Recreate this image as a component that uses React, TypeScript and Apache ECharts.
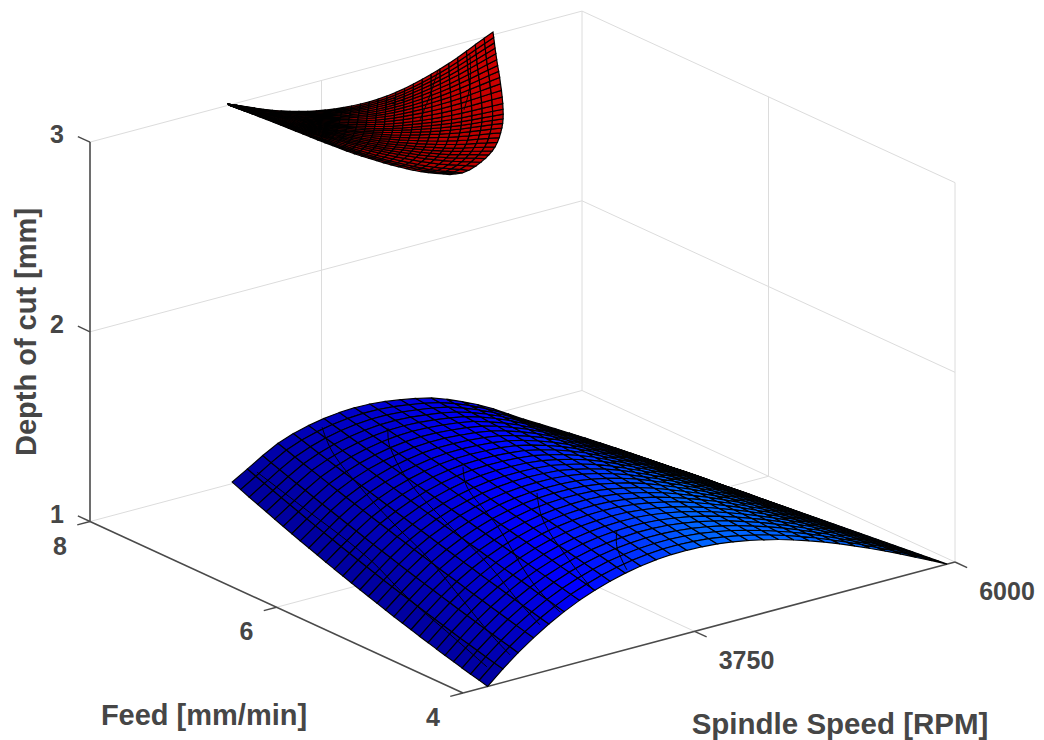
import React, { useEffect, useRef } from "react";
import * as echarts from "echarts";

const SPEED_MIN = 1750, SPEED_MAX = 6000, FEED_MIN = 4, FEED_MAX = 8, DEPTH_MIN = 1;
const speedTicks = [3750, 6000];
const feedTicks = [4, 6, 8];
const depthTicks = [1, 2, 3];

const speedsBlue = [1963,2095,2227,2359,2492,2624,2756,2889,3021,3153,3286,3418,3550,3683,3815,3947,4080,4212,4344,4477,4609,4741,4873,5006,5138,5270,5403,5535,5667,5800,5932];
const feedsBlue = [4,4.091,4.183,4.274,4.365,4.457,4.548,4.639,4.731,4.822,4.913,5.005,5.096,5.187,5.279,5.37,5.461,5.553,5.644,5.735,5.827,5.918,6.009,6.101,6.192,6.283,6.375,6.466,6.557,6.649,6.74];
// depth of cut in thousandths of a mm, one row per feed, one column per speed
const depthBlue = [
[1000,1071,1135,1192,1243,1287,1325,1357,1383,1404,1420,1431,1437,1438,1435,1429,1418,1404,1386,1366,1342,1316,1288,1257,1224,1190,1154,1117,1078,1040,1000],
[1012,1082,1147,1204,1254,1298,1336,1368,1394,1414,1430,1440,1446,1447,1443,1436,1424,1409,1391,1369,1345,1318,1289,1257,1224,1189,1152,1114,1075,1035,995],
[1023,1094,1158,1216,1266,1310,1347,1379,1404,1425,1439,1449,1454,1455,1451,1443,1430,1415,1395,1372,1347,1320,1290,1257,1223,1187,1150,1112,1072,1031,990],
[1035,1106,1170,1228,1278,1321,1358,1390,1415,1435,1449,1458,1463,1463,1458,1449,1436,1419,1399,1375,1349,1321,1290,1257,1223,1186,1148,1109,1068,1027,986],
[1048,1118,1182,1240,1290,1333,1370,1400,1425,1445,1458,1467,1472,1471,1466,1456,1442,1424,1403,1378,1352,1322,1291,1257,1222,1185,1146,1106,1065,1023,981],
[1060,1130,1195,1252,1302,1345,1381,1411,1436,1455,1468,1476,1480,1479,1473,1462,1448,1429,1406,1381,1353,1323,1291,1257,1221,1183,1144,1103,1062,1019,976],
[1073,1143,1207,1265,1314,1356,1392,1422,1446,1464,1477,1485,1488,1487,1480,1468,1453,1433,1410,1383,1355,1324,1292,1257,1220,1181,1141,1100,1058,1015,971],
[1086,1156,1220,1277,1326,1368,1404,1433,1457,1474,1486,1493,1496,1494,1486,1474,1458,1437,1413,1385,1356,1325,1292,1256,1219,1180,1139,1097,1054,1011,966],
[1099,1169,1233,1290,1338,1380,1415,1444,1467,1484,1495,1502,1504,1502,1493,1480,1463,1442,1416,1388,1358,1326,1291,1255,1217,1178,1136,1094,1051,1006,962],
[1113,1182,1246,1303,1351,1392,1426,1454,1477,1494,1504,1510,1512,1509,1499,1486,1468,1445,1419,1389,1359,1326,1291,1254,1216,1175,1134,1091,1047,1002,957],
[1127,1195,1259,1315,1363,1404,1437,1465,1487,1503,1513,1518,1520,1516,1506,1491,1472,1449,1421,1391,1360,1326,1291,1253,1214,1173,1131,1088,1043,998,952],
[1141,1209,1272,1328,1376,1415,1449,1476,1497,1513,1522,1527,1527,1523,1512,1496,1477,1452,1423,1392,1360,1326,1290,1252,1212,1171,1128,1084,1039,994,947],
[1155,1222,1285,1342,1388,1427,1460,1487,1507,1522,1531,1535,1534,1529,1518,1501,1481,1456,1426,1394,1361,1326,1289,1251,1210,1168,1125,1081,1035,989,942],
[1170,1236,1299,1355,1401,1439,1471,1497,1517,1531,1539,1542,1541,1536,1523,1506,1485,1459,1428,1395,1361,1326,1288,1249,1208,1166,1122,1077,1031,985,938],
[1185,1250,1313,1368,1414,1451,1483,1508,1527,1540,1548,1550,1549,1542,1529,1511,1488,1461,1429,1396,1361,1325,1287,1247,1206,1163,1119,1073,1027,980,933],
[1200,1265,1327,1382,1426,1464,1494,1518,1537,1549,1556,1558,1555,1549,1534,1515,1492,1464,1431,1396,1361,1324,1286,1245,1204,1160,1115,1070,1023,976,928],
[1215,1279,1341,1395,1439,1476,1505,1529,1547,1558,1564,1565,1562,1555,1539,1520,1495,1466,1432,1397,1361,1323,1284,1243,1201,1157,1111,1066,1019,971,923],
[1231,1294,1355,1409,1452,1488,1517,1540,1557,1567,1572,1572,1569,1560,1544,1524,1499,1469,1434,1397,1360,1322,1282,1241,1198,1154,1108,1062,1015,967,918],
[1247,1309,1369,1423,1465,1500,1528,1550,1566,1576,1580,1579,1575,1566,1549,1528,1502,1471,1434,1397,1359,1321,1280,1239,1195,1151,1105,1058,1010,962,914],
[1263,1324,1384,1437,1478,1512,1539,1561,1576,1585,1588,1587,1581,1572,1554,1532,1504,1473,1435,1397,1359,1319,1278,1236,1192,1147,1101,1054,1006,958,909],
[1280,1340,1399,1451,1492,1525,1551,1571,1586,1594,1596,1593,1588,1577,1558,1535,1507,1474,1436,1396,1357,1317,1276,1233,1189,1144,1097,1050,1002,953,904],
[1296,1356,1414,1465,1505,1537,1562,1581,1595,1602,1604,1600,1594,1582,1563,1538,1509,1476,1436,1396,1356,1316,1274,1230,1186,1140,1093,1045,997,948,899],
[1313,1371,1429,1479,1518,1549,1574,1592,1605,1611,1611,1607,1600,1588,1567,1542,1512,1477,1436,1395,1355,1314,1271,1227,1182,1136,1089,1041,993,944,894],
[1330,1387,1444,1494,1532,1562,1585,1602,1614,1619,1619,1613,1605,1592,1571,1545,1514,1478,1436,1394,1353,1311,1268,1224,1179,1132,1085,1037,988,939,890],
[1348,1404,1459,1508,1545,1574,1596,1613,1623,1628,1626,1620,1611,1597,1575,1547,1516,1479,1436,1393,1351,1309,1265,1221,1175,1128,1080,1032,983,934,885],
[1366,1420,1475,1523,1559,1587,1608,1623,1633,1636,1633,1626,1616,1602,1578,1550,1517,1479,1436,1392,1349,1306,1262,1217,1171,1124,1076,1027,979,929,880],
[1384,1437,1490,1538,1573,1599,1619,1633,1642,1644,1640,1632,1621,1606,1582,1553,1519,1480,1435,1390,1347,1303,1259,1213,1167,1119,1071,1023,974,925,875],
[1402,1454,1506,1552,1586,1612,1630,1643,1651,1652,1647,1638,1627,1610,1585,1555,1520,1480,1434,1389,1344,1300,1255,1210,1163,1115,1067,1018,969,920,870],
[1420,1471,1522,1567,1600,1624,1642,1654,1660,1660,1654,1644,1632,1615,1588,1557,1521,1480,1433,1387,1342,1297,1252,1205,1158,1110,1062,1013,964,915,866],
[1439,1488,1538,1583,1614,1637,1653,1664,1669,1668,1661,1650,1636,1618,1591,1559,1522,1480,1432,1384,1339,1294,1248,1201,1154,1106,1057,1008,959,910,861],
[1458,1506,1555,1598,1628,1649,1665,1674,1678,1676,1668,1656,1641,1622,1594,1560,1523,1480,1431,1382,1336,1290,1244,1197,1149,1101,1052,1003,954,905,856],
];

const feedsRed = [8,7.96,7.92,7.88,7.84,7.8,7.76,7.72,7.68,7.64,7.6,7.56,7.52,7.48,7.44,7.4,7.36,7.32,7.28,7.24,7.2,7.16,7.12,7.08,7.04,7,6.96,6.92,6.88,6.84,6.8];
const speedsRed = [
[2942,3018,3095,3171,3247,3324,3400,3476,3553,3629,3705,3781,3858,3934,4010,4087,4163,4239,4316,4392,4468,4544,4621,4697,4773,4850,4926,5002,5079,5155,5231],
[2910,2986,3062,3138,3214,3290,3366,3442,3518,3594,3670,3747,3823,3899,3975,4052,4128,4205,4281,4358,4435,4511,4588,4665,4742,4819,4896,4973,5050,5128,5205],
[2879,2954,3030,3105,3181,3256,3332,3408,3484,3560,3636,3712,3788,3864,3940,4017,4093,4170,4247,4324,4401,4478,4555,4633,4710,4788,4866,4944,5022,5100,5179],
[2847,2922,2997,3072,3148,3223,3298,3374,3449,3525,3601,3677,3753,3829,3905,3982,4059,4136,4213,4290,4368,4445,4523,4601,4679,4757,4836,4915,4994,5073,5152],
[2815,2890,2965,3039,3114,3189,3264,3339,3415,3490,3566,3642,3718,3794,3871,3947,4024,4101,4179,4256,4334,4412,4490,4569,4648,4727,4806,4886,4966,5046,5127],
[2784,2858,2932,3007,3081,3156,3230,3305,3380,3456,3531,3607,3683,3759,3836,3913,3990,4067,4145,4223,4301,4379,4458,4538,4617,4697,4777,4858,4939,5020,5102],
[2752,2826,2900,2974,3048,3122,3197,3271,3346,3421,3497,3572,3648,3725,3801,3878,3955,4033,4111,4189,4268,4347,4427,4507,4587,4668,4749,4831,4913,4995,5078],
[2721,2794,2867,2941,3015,3089,3163,3237,3312,3387,3462,3538,3614,3690,3767,3844,3921,3999,4078,4156,4236,4315,4395,4476,4557,4639,4721,4804,4887,4971,5055],
[2689,2762,2835,2908,2981,3055,3129,3203,3277,3352,3427,3503,3579,3655,3732,3809,3887,3965,4044,4123,4203,4283,4364,4445,4527,4609,4692,4776,4860,4945,5031],
[2657,2730,2802,2875,2948,3021,3095,3169,3243,3318,3393,3468,3544,3620,3697,3775,3853,3931,4010,4089,4170,4250,4332,4414,4496,4579,4663,4748,4833,4919,5006],
[2626,2698,2770,2842,2915,2988,3061,3135,3209,3283,3358,3433,3509,3586,3663,3740,3818,3897,3976,4056,4137,4218,4300,4382,4466,4550,4635,4720,4806,4894,4982],
[2594,2666,2737,2809,2882,2954,3027,3101,3174,3249,3323,3399,3474,3551,3628,3705,3784,3863,3942,4022,4103,4185,4267,4351,4435,4519,4605,4692,4779,4867,4956],
[2562,2634,2705,2776,2848,2921,2993,3066,3140,3214,3289,3364,3439,3516,3593,3670,3749,3828,3908,3988,4069,4151,4234,4318,4403,4488,4575,4662,4750,4839,4929],
[2531,2601,2672,2744,2815,2887,2959,3032,3105,3179,3254,3328,3404,3480,3557,3635,3713,3792,3872,3953,4034,4117,4200,4284,4369,4455,4542,4630,4719,4809,4899],
[2499,2569,2640,2711,2782,2853,2925,2998,3071,3144,3218,3293,3369,3445,3522,3599,3677,3757,3837,3917,3999,4082,4165,4249,4335,4421,4508,4597,4686,4777,4868],
[2467,2537,2607,2678,2748,2820,2891,2963,3036,3109,3183,3258,3333,3409,3486,3563,3641,3720,3800,3881,3963,4045,4129,4214,4299,4386,4474,4562,4652,4743,4835],
[2436,2505,2575,2645,2715,2786,2857,2929,3001,3074,3148,3222,3297,3373,3449,3526,3604,3683,3763,3844,3926,4008,4092,4177,4262,4349,4437,4525,4615,4707,4799],
[2404,2473,2542,2612,2682,2752,2823,2894,2966,3039,3112,3186,3261,3336,3412,3489,3567,3646,3725,3806,3887,3970,4053,4138,4223,4310,4397,4486,4576,4667,4760],
[2372,2441,2510,2579,2648,2718,2789,2860,2931,3003,3076,3150,3224,3299,3375,3452,3529,3607,3687,3767,3848,3930,4013,4097,4183,4269,4356,4445,4535,4625,4717],
[2341,2409,2477,2546,2615,2685,2755,2825,2896,2968,3040,3113,3187,3262,3337,3413,3490,3568,3647,3727,3808,3889,3972,4056,4141,4226,4313,4401,4491,4581,4673],
[2309,2377,2445,2513,2582,2651,2720,2790,2861,2932,3004,3077,3150,3224,3299,3375,3451,3528,3607,3686,3766,3847,3929,4012,4096,4182,4268,4355,4444,4534,4624],
[2278,2345,2412,2480,2548,2617,2686,2755,2826,2896,2968,3040,3113,3186,3260,3335,3411,3488,3565,3643,3723,3803,3884,3967,4050,4134,4220,4306,4393,4482,4572],
[2246,2313,2380,2447,2515,2583,2651,2720,2790,2860,2931,3002,3074,3147,3221,3295,3370,3446,3522,3600,3678,3757,3838,3919,4001,4084,4168,4253,4339,4427,4515],
[2214,2281,2347,2414,2481,2549,2617,2685,2754,2824,2894,2965,3036,3108,3180,3254,3328,3403,3478,3555,3632,3710,3789,3869,3950,4031,4114,4198,4282,4368,4454],
[2183,2249,2315,2381,2448,2515,2582,2650,2719,2787,2857,2927,2997,3068,3140,3212,3285,3359,3433,3509,3584,3661,3739,3817,3896,3976,4057,4139,4222,4305,4390],
[2151,2217,2282,2348,2414,2481,2548,2615,2683,2751,2819,2888,2958,3028,3099,3170,3242,3314,3387,3461,3535,3611,3687,3763,3840,3919,3997,4077,4158,4239,4321],
[2119,2184,2250,2315,2381,2447,2513,2579,2646,2713,2781,2849,2918,2987,3056,3126,3196,3267,3339,3411,3483,3556,3630,3704,3779,3855,3931,4008,4086,4164,4243],
[2088,2152,2217,2282,2347,2412,2478,2543,2609,2676,2742,2809,2876,2944,3011,3080,3148,3217,3287,3356,3426,3497,3568,3640,3711,3784,3857,3930,4004,4079,4153],
[2056,2120,2185,2249,2313,2378,2443,2508,2573,2638,2703,2769,2835,2901,2967,3034,3101,3168,3235,3303,3370,3439,3507,3576,3645,3714,3784,3854,3924,3995,4066],
[2024,2088,2152,2216,2280,2344,2408,2472,2536,2600,2665,2729,2794,2859,2923,2988,3053,3119,3184,3249,3315,3381,3447,3513,3579,3645,3712,3778,3845,3912,3979],
[1993,2056,2119,2183,2246,2309,2373,2436,2500,2563,2626,2690,2753,2816,2880,2943,3006,3070,3133,3196,3260,3323,3386,3450,3513,3576,3640,3703,3766,3830,3893],
];
const depthRed = [
[3007,2988,2968,2949,2929,2912,2896,2882,2869,2857,2847,2839,2832,2827,2823,2821,2820,2822,2826,2833,2841,2852,2865,2879,2894,2911,2930,2951,2973,2994,3015],
[3021,3002,2982,2962,2943,2924,2908,2894,2880,2868,2858,2848,2841,2835,2830,2827,2826,2826,2829,2834,2842,2851,2862,2875,2889,2904,2922,2941,2961,2980,2999],
[3035,3015,2995,2975,2956,2937,2921,2906,2892,2879,2868,2858,2850,2843,2837,2833,2831,2831,2832,2836,2842,2851,2860,2871,2883,2897,2913,2931,2949,2967,2984],
[3049,3029,3009,2989,2969,2950,2933,2918,2904,2890,2878,2868,2859,2851,2845,2840,2836,2835,2835,2838,2843,2850,2858,2867,2878,2890,2904,2920,2937,2953,2969],
[3063,3043,3022,3002,2982,2963,2946,2930,2915,2901,2889,2877,2868,2859,2852,2846,2841,2839,2838,2840,2843,2848,2855,2863,2872,2883,2895,2909,2924,2939,2953],
[3077,3057,3036,3015,2995,2976,2958,2942,2926,2912,2899,2887,2876,2867,2859,2852,2846,2842,2840,2841,2843,2847,2852,2858,2866,2874,2885,2897,2910,2923,2935],
[3091,3070,3050,3029,3008,2989,2971,2954,2938,2923,2909,2896,2885,2875,2865,2858,2851,2846,2843,2842,2842,2845,2848,2853,2859,2866,2875,2885,2896,2907,2917],
[3105,3084,3063,3042,3021,3001,2983,2966,2949,2934,2919,2906,2893,2882,2872,2863,2855,2849,2845,2842,2842,2842,2844,2847,2851,2857,2864,2872,2881,2891,2899],
[3118,3098,3077,3055,3034,3014,2995,2978,2961,2945,2929,2915,2902,2890,2879,2869,2860,2853,2847,2843,2841,2840,2840,2842,2844,2847,2852,2859,2866,2873,2880],
[3132,3112,3090,3069,3047,3027,3008,2990,2972,2955,2939,2924,2910,2897,2885,2874,2864,2856,2849,2843,2840,2837,2836,2835,2836,2837,2840,2845,2850,2855,2860],
[3146,3125,3104,3082,3061,3040,3020,3001,2983,2966,2949,2934,2919,2905,2892,2879,2868,2858,2850,2843,2838,2834,2830,2828,2826,2826,2827,2830,2833,2836,2838],
[3160,3139,3117,3095,3074,3053,3032,3013,2995,2977,2959,2943,2927,2912,2898,2884,2872,2861,2851,2843,2836,2830,2825,2821,2817,2815,2814,2814,2815,2816,2816],
[3174,3153,3131,3109,3087,3065,3045,3025,3006,2987,2969,2952,2935,2919,2904,2890,2876,2864,2853,2843,2834,2827,2820,2814,2809,2805,2802,2800,2799,2797,2795],
[3188,3166,3144,3122,3100,3078,3057,3037,3017,2998,2980,2962,2944,2927,2911,2896,2881,2868,2855,2844,2835,2826,2818,2810,2803,2797,2792,2789,2786,2783,2779],
[3202,3180,3158,3135,3113,3091,3070,3049,3029,3009,2990,2971,2953,2936,2919,2903,2887,2873,2859,2847,2836,2826,2817,2808,2800,2792,2786,2781,2777,2772,2767],
[3216,3194,3171,3149,3126,3104,3082,3061,3041,3021,3001,2982,2963,2945,2927,2910,2894,2878,2864,2851,2839,2828,2817,2807,2797,2789,2781,2775,2770,2764,2757],
[3230,3208,3185,3162,3139,3117,3095,3074,3053,3032,3012,2992,2972,2954,2935,2917,2900,2884,2869,2855,2842,2829,2818,2806,2796,2786,2777,2770,2763,2756,2748],
[3244,3221,3198,3175,3152,3130,3108,3086,3064,3043,3022,3002,2982,2962,2943,2925,2907,2890,2873,2858,2844,2831,2818,2806,2794,2783,2773,2764,2756,2748,2739],
[3258,3235,3212,3189,3166,3143,3120,3098,3076,3054,3033,3012,2991,2971,2951,2932,2913,2895,2878,2862,2847,2832,2818,2805,2792,2779,2768,2758,2749,2740,2729],
[3272,3249,3225,3202,3179,3156,3133,3110,3088,3066,3044,3023,3001,2980,2959,2939,2920,2901,2882,2866,2849,2834,2819,2804,2789,2776,2763,2752,2742,2731,2720],
[3286,3262,3239,3215,3192,3168,3145,3122,3100,3077,3055,3032,3010,2989,2968,2947,2926,2906,2887,2870,2852,2836,2819,2804,2788,2773,2759,2747,2736,2724,2712],
[3299,3276,3253,3229,3205,3181,3158,3135,3112,3088,3066,3043,3020,2998,2976,2955,2934,2913,2893,2874,2856,2839,2821,2804,2788,2772,2757,2744,2732,2719,2706],
[3313,3290,3266,3242,3218,3194,3171,3147,3123,3100,3077,3053,3030,3008,2985,2963,2941,2920,2899,2880,2861,2843,2825,2807,2789,2773,2757,2743,2730,2717,2702],
[3327,3304,3280,3256,3232,3207,3183,3159,3136,3112,3088,3064,3041,3017,2995,2972,2950,2928,2906,2886,2867,2848,2829,2810,2792,2775,2758,2744,2730,2716,2701],
[3341,3317,3293,3269,3245,3220,3196,3172,3148,3123,3099,3075,3051,3027,3004,2981,2958,2935,2914,2893,2873,2853,2834,2814,2796,2778,2760,2745,2731,2717,2701],
[3355,3331,3307,3282,3258,3233,3209,3184,3160,3135,3111,3086,3062,3038,3014,2990,2967,2944,2921,2900,2879,2859,2839,2819,2799,2781,2763,2747,2732,2718,2702],
[3369,3345,3320,3296,3271,3246,3222,3197,3172,3147,3122,3098,3073,3048,3023,2999,2975,2952,2929,2907,2886,2864,2844,2823,2803,2784,2765,2749,2734,2719,2703],
[3383,3358,3334,3309,3284,3259,3234,3209,3184,3159,3134,3108,3083,3058,3033,3009,2984,2960,2937,2914,2893,2871,2850,2829,2808,2788,2769,2753,2737,2722,2705],
[3397,3372,3347,3323,3298,3273,3247,3222,3197,3171,3146,3120,3094,3069,3044,3019,2995,2970,2947,2924,2902,2880,2859,2838,2817,2797,2778,2762,2746,2731,2715],
[3411,3386,3361,3336,3311,3286,3260,3235,3209,3184,3158,3132,3107,3081,3056,3031,3007,2983,2959,2937,2915,2893,2872,2851,2831,2811,2793,2777,2762,2748,2733],
[3425,3400,3375,3350,3324,3299,3274,3248,3222,3196,3171,3145,3119,3094,3069,3044,3019,2995,2972,2950,2928,2906,2885,2865,2845,2826,2808,2793,2779,2766,2752],
];

// thin dark curves lying on the surfaces: [speed, feed, depth]
const contourLines = [
[[1098,5.4,1.954],[1470,5.4,1.72],[2048,5.4,1.352],[2394,5.4,1.085],[2791,5.4,.81],[3085,5.4,.604]],
[[1660,5.4,2.1],[1755,5.4,1.948],[1988,5.4,1.731],[2273,5.4,1.495],[2567,5.4,1.268],[2852,5.4,1.011],[3085,5.4,.799],[3284,5.4,.635]],
[[2230,5.4,2.003],[2247,5.4,1.9],[2420,5.4,1.682],[2739,5.4,1.419],[3085,5.4,1.152],[3370,5.4,.895],[3543,5.4,.751]],
[[2878,5.4,1.692],[2912,5.4,1.581],[3085,5.4,1.416],[3197,5.4,1.308],[3482,5.4,.982],[3716,5.4,.791]],
[[3517,5.4,1.451],[3569,5.4,1.3],[3776,5.4,1.071],[4001,5.4,.861]],
[[4208,5.4,1.143],[4208,5.4,1.054],[4294,5.4,.919]],
[[2938,5.4,3.854],[2938,5.4,3.696],[2886,5.4,3.572]],
[[2662,5.4,3.82],[2593,5.4,3.699],[2506,5.4,3.581]],
];

function project(speed: number, feed: number, depth: number) {
  const s = (speed - SPEED_MIN) / (SPEED_MAX - SPEED_MIN);
  const f = (feed - FEED_MIN) / (FEED_MAX - FEED_MIN);
  return [463 + 492 * s - 373 * f, 693 - 131 * s - 171.5 * f - 189.7 * (depth - DEPTH_MIN)];
}

const GRID = "#dcdcdc", AXIS = "#4a4a4a";
type Seg = [number, number, number, number, number, number, string, number];
const segs: Seg[] = [];
const add = (a: number[], b: number[], c: string, w: number) => segs.push([a[0], a[1], a[2], b[0], b[1], b[2], c, w]);
for (const d of depthTicks) {
  add([SPEED_MIN, FEED_MAX, d], [SPEED_MAX, FEED_MAX, d], GRID, 1);
  add([SPEED_MAX, FEED_MAX, d], [SPEED_MAX, FEED_MIN, d], GRID, 1);
}
add([SPEED_MAX, FEED_MAX, 1], [SPEED_MAX, FEED_MAX, 3], GRID, 1);
add([SPEED_MAX, FEED_MIN, 1], [SPEED_MAX, FEED_MIN, 3], GRID, 1);
for (const sp of speedTicks.slice(0, 1)) {
  add([sp, FEED_MIN, 1], [sp, FEED_MAX, 1], GRID, 1);
  add([sp, FEED_MAX, 1], [sp, FEED_MAX, 3], GRID, 1);
}
add([SPEED_MIN, 6, 1], [SPEED_MAX, 6, 1], GRID, 1);
add([SPEED_MAX, 6, 1], [SPEED_MAX, 6, 3], GRID, 1);
add([SPEED_MIN, FEED_MAX, 1], [SPEED_MIN, FEED_MAX, 3], AXIS, 1.6);
add([SPEED_MIN, FEED_MIN, 1], [SPEED_MIN, FEED_MAX, 1], AXIS, 1.6);
add([SPEED_MIN, FEED_MIN, 1], [SPEED_MAX, FEED_MIN, 1], AXIS, 1.6);
const dF = -.13, dS = -110;
for (const sp of speedTicks) add([sp, FEED_MIN, 1], [sp, FEED_MIN + dF, 1], AXIS, 1.4);
for (const fd of feedTicks) add([SPEED_MIN, fd, 1], [SPEED_MIN + dS, fd, 1], AXIS, 1.4);
for (const d of depthTicks) add([SPEED_MIN, FEED_MAX, d], [SPEED_MIN, FEED_MAX + .13, d], AXIS, 1.4);

function surfaceData(ni: number, nj: number) {
  const out: number[][] = [];
  for (let i = ni - 1; i >= 0; i--) for (let j = 0; j < nj; j++) out.push([i, j]);
  return out;
}
const clamp = (x: number) => Math.max(0, Math.min(1, x));
function surface(name: string, speedAt: (i: number, j: number) => number, feeds: number[], depth: number[][], shade: (u: number, v: number) => string, lineWidth: number) {
  const ni = depth.length - 1, nj = depth[0].length - 1;
  return {
    type: "custom", name, silent: true, coordinateSystem: "cartesian2d",
    data: surfaceData(ni, nj), clip: false,
    renderItem: (_: any, api: any) => {
      const i = api.value(0), j = api.value(1);
      const pts = [[i, j], [i, j + 1], [i + 1, j + 1], [i + 1, j]].map(([a, b]) => api.coord(project(speedAt(a, b), feeds[a], depth[a][b] / 1000)));
      return { type: "polygon", shape: { points: pts }, style: { fill: shade((j + .5) / nj, (i + .5) / ni), stroke: "#000", lineWidth } };
    },
  };
}
const blueShade = (u: number, v: number) => {
  const t = clamp(.1 + 1.9 * u - 1.2 * u * v);
  return t < .5 ? `rgb(0,0,${Math.round(130 + 250 * t)})` : `rgb(0,${Math.round((t - .5) * 200)},255)`;
};
const redShade = (u: number, v: number) => `rgb(${Math.round(125 + 85 * clamp(.7 * u + .3 * (1 - v)))},0,0)`;

const FONT = '"Liberation Sans", Arial, sans-serif';
const label = (text: string, x: number, y: number, size: number, rotation = 0) => ({
  type: "text", x, y, rotation, silent: true,
  style: { text, fill: "#464646", font: `bold ${size}px ${FONT}`, textAlign: "center", textVerticalAlign: "middle" },
});

export default function App() {
  const ref = useRef<HTMLDivElement>(null);
  useEffect(() => {
    const chart = echarts.init(ref.current!, undefined, { renderer: "svg" });
    const tickLabels: any[] = [];
    for (const d of depthTicks) { const p = project(SPEED_MIN, FEED_MAX, d); tickLabels.push(label(String(d), p[0] - 33, p[1] - 8, 25)); }
    for (const fd of feedTicks) { const p = project(SPEED_MIN, fd, 1); tickLabels.push(label(String(fd), p[0] - 30, p[1] + 24, 25)); }
    for (const sp of speedTicks) { const p = project(sp, FEED_MIN, 1); tickLabels.push(label(String(sp), p[0] + 52, p[1] + 29, 25)); }
    chart.setOption({
      animation: false,
      backgroundColor: "#fff",
      grid: { left: 0, right: 0, top: 0, bottom: 0 },
      xAxis: { type: "value", min: 0, max: 1044, show: false },
      yAxis: { type: "value", min: 0, max: 740, inverse: true, show: false },
      graphic: [
        ...tickLabels,
        label("Feed [mm/min]", 204, 715, 29),
        label("Spindle Speed [RPM]", 840, 723, 29.5),
        label("Depth of cut [mm]", 26, 332, 29, Math.PI / 2),
      ],
      series: [
        {
          type: "custom", silent: true, clip: false, coordinateSystem: "cartesian2d",
          data: segs.map((_, k) => [k, 0]),
          renderItem: (_: any, api: any) => {
            const g = segs[api.value(0)];
            const a = api.coord(project(g[0], g[1], g[2])), b = api.coord(project(g[3], g[4], g[5]));
            return { type: "line", shape: { x1: a[0], y1: a[1], x2: b[0], y2: b[1] }, style: { stroke: g[6], lineWidth: g[7] } };
          },
        },
        surface("Lower", (_i, j) => speedsBlue[j], feedsBlue, depthBlue, blueShade, 1.15),
        surface("Upper", (i, j) => speedsRed[i][j], feedsRed, depthRed, redShade, 1.2),
        {
          type: "custom", silent: true, clip: false, coordinateSystem: "cartesian2d",
          data: contourLines.map((_, k) => [k, 0]),
          renderItem: (_: any, api: any) => ({
            type: "polyline",
            shape: { points: contourLines[api.value(0)].map(p => api.coord(project(p[0], p[1], p[2]))), smooth: 0.4 },
            style: { stroke: "#000", lineWidth: 1, fill: "none" },
          }),
        },
      ],
    });
    return () => chart.dispose();
  }, []);
  return <div ref={ref} style={{ position: "absolute", left: 0, top: 0, width: 1044, height: 740 }} />;
}
